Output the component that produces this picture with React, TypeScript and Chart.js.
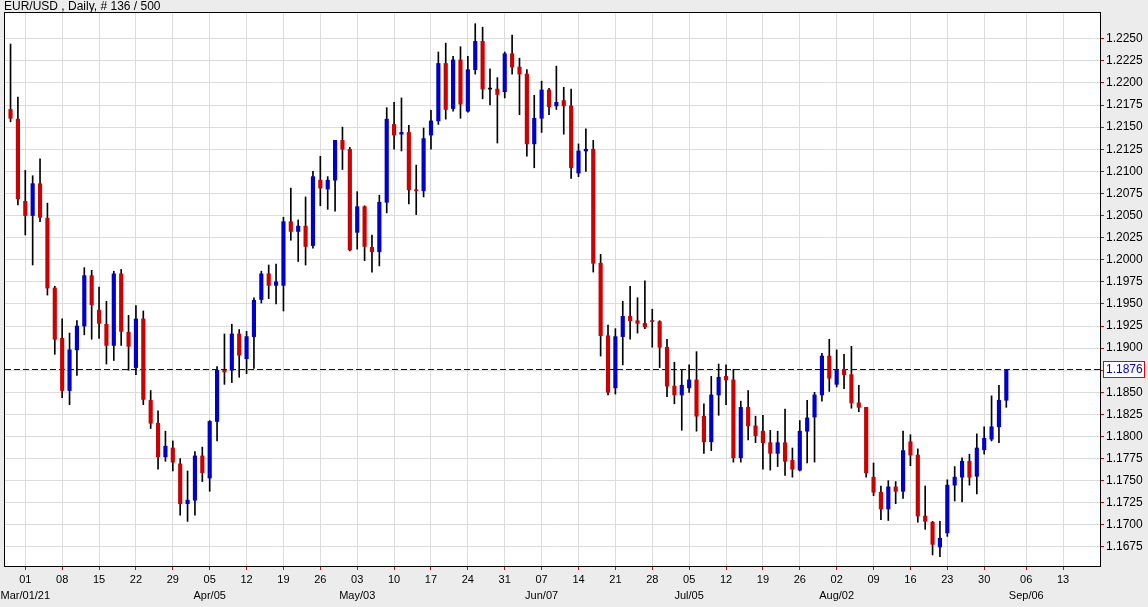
import { useEffect, useRef } from 'react';
import { Chart, registerables } from 'chart.js';

Chart.register(...registerables);

const chartTitle = 'EUR/USD , Daily, # 136 / 500';

const dates = [
  '2021-02-25', '2021-02-26',
  '2021-03-01', '2021-03-02', '2021-03-03', '2021-03-04', '2021-03-05',
  '2021-03-08', '2021-03-09', '2021-03-10', '2021-03-11', '2021-03-12',
  '2021-03-15', '2021-03-16', '2021-03-17', '2021-03-18', '2021-03-19',
  '2021-03-22', '2021-03-23', '2021-03-24', '2021-03-25', '2021-03-26',
  '2021-03-29', '2021-03-30', '2021-03-31', '2021-04-01', '2021-04-02',
  '2021-04-05', '2021-04-06', '2021-04-07', '2021-04-08', '2021-04-09',
  '2021-04-12', '2021-04-13', '2021-04-14', '2021-04-15', '2021-04-16',
  '2021-04-19', '2021-04-20', '2021-04-21', '2021-04-22', '2021-04-23',
  '2021-04-26', '2021-04-27', '2021-04-28', '2021-04-29', '2021-04-30',
  '2021-05-03', '2021-05-04', '2021-05-05', '2021-05-06', '2021-05-07',
  '2021-05-10', '2021-05-11', '2021-05-12', '2021-05-13', '2021-05-14',
  '2021-05-17', '2021-05-18', '2021-05-19', '2021-05-20', '2021-05-21',
  '2021-05-24', '2021-05-25', '2021-05-26', '2021-05-27', '2021-05-28',
  '2021-05-31', '2021-06-01', '2021-06-02', '2021-06-03', '2021-06-04',
  '2021-06-07', '2021-06-08', '2021-06-09', '2021-06-10', '2021-06-11',
  '2021-06-14', '2021-06-15', '2021-06-16', '2021-06-17', '2021-06-18',
  '2021-06-21', '2021-06-22', '2021-06-23', '2021-06-24', '2021-06-25',
  '2021-06-28', '2021-06-29', '2021-06-30', '2021-07-01', '2021-07-02',
  '2021-07-05', '2021-07-06', '2021-07-07', '2021-07-08', '2021-07-09',
  '2021-07-12', '2021-07-13', '2021-07-14', '2021-07-15', '2021-07-16',
  '2021-07-19', '2021-07-20', '2021-07-21', '2021-07-22', '2021-07-23',
  '2021-07-26', '2021-07-27', '2021-07-28', '2021-07-29', '2021-07-30',
  '2021-08-02', '2021-08-03', '2021-08-04', '2021-08-05', '2021-08-06',
  '2021-08-09', '2021-08-10', '2021-08-11', '2021-08-12', '2021-08-13',
  '2021-08-16', '2021-08-17', '2021-08-18', '2021-08-19', '2021-08-20',
  '2021-08-23', '2021-08-24', '2021-08-25', '2021-08-26', '2021-08-27',
  '2021-08-30', '2021-08-31', '2021-09-01', '2021-09-02',
];

const opens = [
  1.2170, 1.2159,
  1.2066, 1.2050, 1.2086, 1.2047, 1.1968,
  1.1911, 1.1852, 1.1898, 1.1925, 1.1982,
  1.1943, 1.1927, 1.1903, 1.1984, 1.1918,
  1.1878, 1.1933, 1.1841, 1.1815, 1.1777,
  1.1787, 1.1769, 1.1724, 1.1728, 1.1778,
  1.1753, 1.1817, 1.1875, 1.1875, 1.1916,
  1.1888, 1.1913, 1.1955, 1.1984, 1.1971,
  1.1971, 1.2043, 1.2032, 1.2038, 1.2016,
  1.2090, 1.2080, 1.2090, 1.2135, 1.2125,
  1.2031, 1.2060, 1.2014, 1.2009, 1.2065,
  1.2153, 1.2142, 1.2144, 1.2079, 1.2078,
  1.2141, 1.2157, 1.2222, 1.2171, 1.2226,
  1.2168, 1.2215, 1.2247, 1.2193, 1.2193,
  1.2190, 1.2233, 1.2218, 1.2210, 1.2131,
  1.2160, 1.2192, 1.2174, 1.2180, 1.2174,
  1.2098, 1.2123, 1.2125, 1.1996, 1.1914,
  1.1855, 1.1913, 1.1936, 1.1931, 1.1928,
  1.1931, 1.1930, 1.1901, 1.1857, 1.1847,
  1.1855, 1.1864, 1.1823, 1.1794, 1.1847,
  1.1868, 1.1864, 1.1776, 1.1833, 1.1812,
  1.1806, 1.1793, 1.1781, 1.1793, 1.1773,
  1.1762, 1.1806, 1.1822, 1.1847, 1.1891,
  1.1859, 1.1876, 1.1870, 1.1838, 1.1833,
  1.1754, 1.1737, 1.1718, 1.1743, 1.1738,
  1.1794, 1.1779, 1.1710, 1.1703, 1.1675,
  1.1691, 1.1745, 1.1754, 1.1772, 1.1755,
  1.1785, 1.1797, 1.1811, 1.1841,
];

const highs = [
  1.2244, 1.2184,
  1.2101, 1.2095, 1.2114, 1.2064, 1.1970,
  1.1933, 1.1917, 1.1931, 1.1991, 1.1988,
  1.1969, 1.1953, 1.1987, 1.1989, 1.1937,
  1.1948, 1.1942, 1.1852, 1.1829, 1.1806,
  1.1795, 1.1775, 1.1761, 1.1783, 1.1788,
  1.1818, 1.1879, 1.1916, 1.1927, 1.1921,
  1.1919, 1.1957, 1.1987, 1.1994, 1.1995,
  1.2048, 1.2081, 1.2045, 1.2071, 1.2100,
  1.2117, 1.2094, 1.2135, 1.2150, 1.2127,
  1.2077, 1.2061, 1.2028, 1.2073, 1.2172,
  1.2178, 1.2183, 1.2152, 1.2107, 1.2149,
  1.2169, 1.2235, 1.2245, 1.2230, 1.2241,
  1.2230, 1.2267, 1.2263, 1.2216, 1.2206,
  1.2235, 1.2254, 1.2228, 1.2215, 1.2186,
  1.2202, 1.2194, 1.2219, 1.2195, 1.2193,
  1.2131, 1.2148, 1.2135, 1.2006, 1.1926,
  1.1922, 1.1953, 1.1970, 1.1957, 1.1976,
  1.1944, 1.1931, 1.1910, 1.1884, 1.1875,
  1.1881, 1.1896, 1.1837, 1.1868, 1.1882,
  1.1881, 1.1876, 1.1840, 1.1852, 1.1823,
  1.1824, 1.1807, 1.1806, 1.1831, 1.1787,
  1.1818, 1.1841, 1.1850, 1.1894, 1.1910,
  1.1898, 1.1893, 1.1902, 1.1858, 1.1833,
  1.1770, 1.1744, 1.1750, 1.1749, 1.1806,
  1.1802, 1.1786, 1.1744, 1.1704, 1.1704,
  1.1751, 1.1766, 1.1776, 1.1780, 1.1803,
  1.1811, 1.1846, 1.1858, 1.1876,
];

const lows = [
  1.2156, 1.2062,
  1.2028, 1.1994, 1.2043, 1.1960, 1.1893,
  1.1844, 1.1836, 1.1869, 1.1915, 1.1910,
  1.1911, 1.1882, 1.1886, 1.1903, 1.1875,
  1.1870, 1.1836, 1.1809, 1.1763, 1.1772,
  1.1761, 1.1711, 1.1704, 1.1711, 1.1749,
  1.1738, 1.1795, 1.1859, 1.1861, 1.1867,
  1.1871, 1.1877, 1.1951, 1.1956, 1.1950,
  1.1942, 1.2022, 1.1998, 1.1994, 1.2013,
  1.2061, 1.2057, 1.2055, 1.2102, 1.2010,
  1.2012, 1.1999, 1.1986, 1.1993, 1.2053,
  1.2125, 1.2123, 1.2063, 1.2051, 1.2071,
  1.2125, 1.2153, 1.2159, 1.2168, 1.2160,
  1.2167, 1.2210, 1.2182, 1.2175, 1.2132,
  1.2183, 1.2210, 1.2164, 1.2117, 1.2104,
  1.2144, 1.2164, 1.2170, 1.2142, 1.2092,
  1.2094, 1.2100, 1.1986, 1.1891, 1.1847,
  1.1848, 1.1881, 1.1910, 1.1917, 1.1922,
  1.1901, 1.1878, 1.1845, 1.1837, 1.1807,
  1.1850, 1.1806, 1.1781, 1.1784, 1.1824,
  1.1836, 1.1771, 1.1771, 1.1796, 1.1793,
  1.1763, 1.1762, 1.1766, 1.1756, 1.1754,
  1.1761, 1.1770, 1.1771, 1.1840, 1.1851,
  1.1856, 1.1854, 1.1832, 1.1828, 1.1754,
  1.1733, 1.1706, 1.1705, 1.1724, 1.1730,
  1.1767, 1.1703, 1.1695, 1.1666, 1.1664,
  1.1687, 1.1727, 1.1726, 1.1745, 1.1735,
  1.1780, 1.1795, 1.1793, 1.1833,
];

const closes = [
  1.2160, 1.2069,
  1.2050, 1.2086, 1.2048, 1.1968, 1.1910,
  1.1852, 1.1898, 1.1925, 1.1982, 1.1949,
  1.1928, 1.1903, 1.1984, 1.1919, 1.1902,
  1.1933, 1.1842, 1.1815, 1.1777, 1.1789,
  1.1771, 1.1724, 1.1728, 1.1778, 1.1759,
  1.1817, 1.1875, 1.1873, 1.1916, 1.1892,
  1.1913, 1.1954, 1.1984, 1.1971, 1.1975,
  1.2043, 1.2032, 1.2038, 1.2015, 1.2094,
  1.2081, 1.2090, 1.2135, 1.2125, 1.2011,
  1.2060, 1.2015, 1.2009, 1.2065, 1.2159,
  1.2141, 1.2144, 1.2079, 1.2078, 1.2137,
  1.2157, 1.2222, 1.2170, 1.2226, 1.2176,
  1.2215, 1.2247, 1.2193, 1.2193, 1.2187,
  1.2233, 1.2218, 1.2210, 1.2131, 1.2160,
  1.2192, 1.2173, 1.2178, 1.2174, 1.2104,
  1.2123, 1.2125, 1.1996, 1.1914, 1.1850,
  1.1913, 1.1936, 1.1931, 1.1928, 1.1924,
  1.1930, 1.1901, 1.1857, 1.1847, 1.1858,
  1.1864, 1.1823, 1.1794, 1.1847, 1.1867,
  1.1864, 1.1776, 1.1833, 1.1812, 1.1801,
  1.1793, 1.1781, 1.1793, 1.1772, 1.1763,
  1.1806, 1.1821, 1.1847, 1.1891, 1.1866,
  1.1875, 1.1870, 1.1838, 1.1833, 1.1759,
  1.1737, 1.1718, 1.1743, 1.1738, 1.1784,
  1.1779, 1.1710, 1.1704, 1.1678, 1.1685,
  1.1745, 1.1754, 1.1772, 1.1754, 1.1787,
  1.1798, 1.1811, 1.1841, 1.1876,
];

// Weekly (Monday) ticks, positioned in bar-index units
const tickPositions = [
  2, 7, 12, 17, 22, 27, 32, 37, 42, 47, 52, 57, 62, 67, 72, 77, 82, 87, 92, 97,
  102, 107, 112, 117, 122, 127, 132, 137.7, 142.7,
];
const dayLabels = [
  '01', '08', '15', '22', '29', '05', '12', '19', '26', '03', '10', '17', '24', '31',
  '07', '14', '21', '28', '05', '12', '19', '26', '02', '09', '16', '23', '30', '06', '13',
];
const monthLabels = [
  'Mar/01/21', '', '', '', '', 'Apr/05', '', '', '', 'May/03', '', '', '', '',
  'Jun/07', '', '', '', 'Jul/05', '', '', '', 'Aug/02', '', '', '', '', 'Sep/06', '',
];

const priceTicks = [
  1.1675, 1.17, 1.1725, 1.175, 1.1775, 1.18, 1.1825, 1.185, 1.1875, 1.19, 1.1925,
  1.195, 1.1975, 1.2, 1.2025, 1.205, 1.2075, 1.21, 1.2125, 1.215, 1.2175, 1.22,
  1.2225, 1.225,
];
const lastPrice = 1.1876;

const X_MIN = -0.75;
const X_MAX = 147.7;
const Y_MIN = 1.16535;
const Y_MAX = 1.22791;

const UP = '#0000cc';
const DOWN = '#cc0000';
const GRID = '#dcdcdc';
const TICK = '#dd0000';
const FONT = '"Liberation Sans", Arial, sans-serif';

const chromePlugin = {
  id: 'chrome',
  beforeDraw(chart: any) {
    const { ctx, chartArea: a, width, height } = chart;
    ctx.save();
    ctx.fillStyle = '#ececec';
    ctx.fillRect(0, 0, width, height);
    ctx.fillStyle = '#ffffff';
    ctx.fillRect(a.left, a.top, a.right - a.left, a.bottom - a.top);
    ctx.restore();
  },
  beforeDatasetsDraw(chart: any) {
    const { ctx, chartArea: a } = chart;
    const y = Math.round(chart.scales.y.getPixelForValue(lastPrice)) + 0.5;
    ctx.save();
    ctx.strokeStyle = UP;
    ctx.lineWidth = 1;
    ctx.setLineDash([6, 3]);
    ctx.beginPath();
    ctx.moveTo(a.left, y);
    ctx.lineTo(a.right, y);
    ctx.stroke();
    ctx.restore();
  },
  afterDraw(chart: any) {
    const { ctx, chartArea: a } = chart;
    ctx.save();
    ctx.strokeStyle = '#000';
    ctx.lineWidth = 1;
    ctx.strokeRect(
      Math.round(a.left) - 0.5,
      Math.round(a.top) - 0.5,
      Math.round(a.right) - Math.round(a.left) + 1,
      Math.round(a.bottom) - Math.round(a.top) + 1
    );
    ctx.fillStyle = '#000';
    ctx.font = '12px ' + FONT;
    ctx.textBaseline = 'alphabetic';
    ctx.textAlign = 'left';
    ctx.fillText(chartTitle, 4, 10);

    const y = Math.round(chart.scales.y.getPixelForValue(lastPrice));
    ctx.fillStyle = '#ffffff';
    ctx.fillRect(a.right + 3, y - 8, 42, 17);
    ctx.strokeStyle = '#ee0000';
    ctx.strokeRect(a.right + 3.5, y - 7.5, 41, 16);
    ctx.fillStyle = UP;
    ctx.textBaseline = 'middle';
    ctx.fillText(lastPrice.toFixed(4), a.right + 6, y + 1);
    ctx.restore();
  },
};

export default function App() {
  const ref = useRef<HTMLCanvasElement>(null);

  useEffect(() => {
    const canvas = ref.current;
    if (!canvas) return;
    const bodyData = opens.map((o, i) => ({ x: i, y: [o, closes[i]] }));
    const wickData = opens.map((_, i) => ({ x: i, y: [lows[i], highs[i]] }));
    const bodyColors = opens.map((o, i) =>
      closes[i] > o ? UP : closes[i] < o ? DOWN : '#000000'
    );

    const chart = new Chart(canvas, {
      type: 'bar',
      data: {
        labels: dates,
        datasets: [
          {
            label: 'body',
            data: bodyData as any,
            backgroundColor: bodyColors,
            borderWidth: 0,
            barThickness: 3.5,
            minBarLength: 1,
            grouped: false,
            order: 0,
          } as any,
          {
            label: 'wick',
            data: wickData as any,
            backgroundColor: '#000000',
            borderWidth: 0,
            barThickness: 1,
            grouped: false,
            order: 1,
          } as any,
        ],
      },
      options: {
        responsive: false,
        maintainAspectRatio: false,
        devicePixelRatio: 1,
        animation: false,
        events: [],
        layout: { padding: { left: 5, top: 13, right: 0, bottom: 0 } },
        plugins: {
          legend: { display: false },
          tooltip: { enabled: false },
          title: { display: false },
        },
        scales: {
          x: {
            type: 'linear',
            position: 'bottom',
            min: X_MIN,
            max: X_MAX,
            offset: false,
            border: { display: false },
            grid: {
              offset: false,
              color: GRID,
              lineWidth: 1,
              drawTicks: true,
              tickLength: 4,
              tickColor: TICK,
              tickWidth: 1,
            },
            ticks: {
              autoSkip: false,
              maxRotation: 0,
              minRotation: 0,
              padding: 2,
              color: '#000',
              font: { family: FONT, size: 11, lineHeight: '16px' as any },
              callback: (_v: any, i: number) =>
                monthLabels[i] ? [dayLabels[i], monthLabels[i]] : dayLabels[i],
            },
            afterBuildTicks: (s: any) => {
              s.ticks = tickPositions.map((v) => ({ value: v }));
            },
            afterFit: (s: any) => {
              s.height = 41;
              s.paddingLeft = 0;
              s.paddingRight = 0;
            },
          } as any,
          y: {
            type: 'linear',
            position: 'right',
            min: Y_MIN,
            max: Y_MAX,
            beginAtZero: false,
            border: { display: false },
            grid: {
              color: GRID,
              lineWidth: 1,
              drawTicks: true,
              tickLength: 4,
              tickColor: TICK,
              tickWidth: 1,
            },
            ticks: {
              padding: 2,
              color: '#000',
              font: { family: FONT, size: 12 },
              callback: (v: any) =>
                Math.abs(Number(v) - 1.1875) < 1e-6 ? '' : Number(v).toFixed(4),
            },
            afterBuildTicks: (s: any) => {
              s.ticks = priceTicks.map((v) => ({ value: v }));
            },
            afterFit: (s: any) => {
              s.width = 48;
              s.paddingTop = 0;
              s.paddingBottom = 0;
            },
          } as any,
        },
      },
      plugins: [chromePlugin],
    });

    return () => chart.destroy();
  }, []);

  return (
    <div
      style={{
        position: 'absolute',
        left: 0,
        top: 0,
        width: 1148,
        height: 607,
        background: '#ececec',
      }}
    >
      <canvas ref={ref} width={1148} height={607} style={{ display: 'block' }} />
    </div>
  );
}
